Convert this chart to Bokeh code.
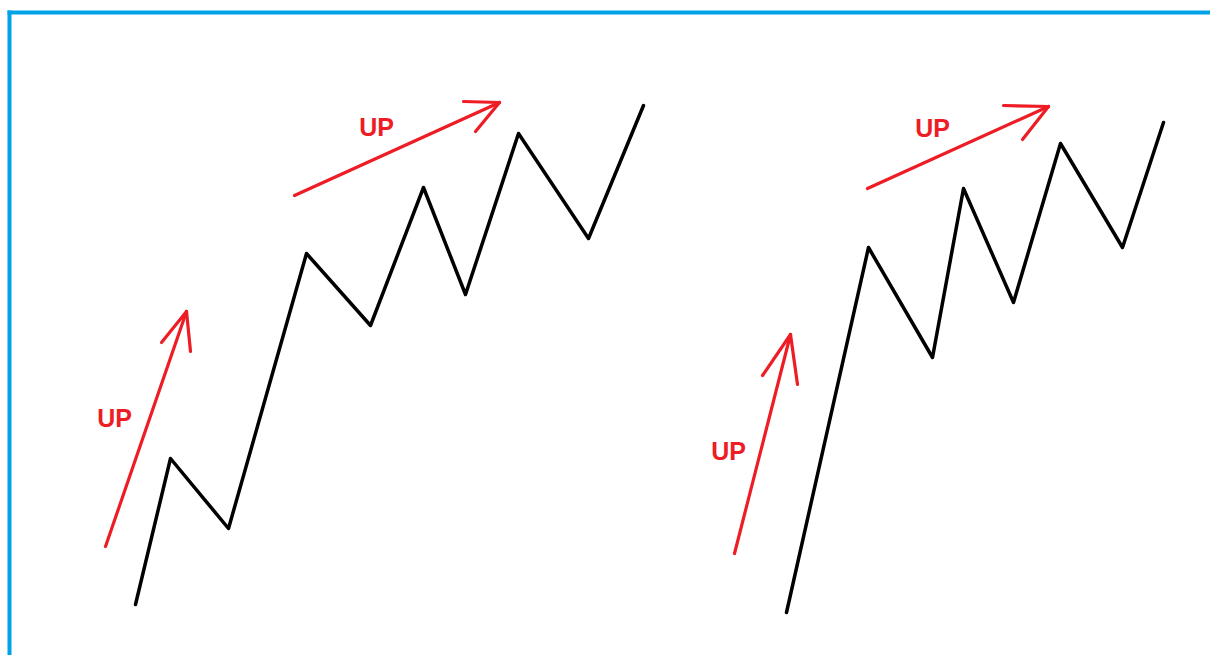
from bokeh.plotting import figure
from bokeh.models import Range1d
from bokeh.core.properties import value
from bokeh.embed import file_html
from bokeh.resources import INLINE

# Zigzag price paths (image pixel coordinates)
left_x = [135, 170, 228, 306, 370, 423, 465, 518, 588, 643]
left_y = [604, 458, 528, 253, 325, 187, 294, 133, 238, 105]
right_x = [786, 868, 932, 963, 1013, 1060, 1122, 1163]
right_y = [612, 247, 357, 188, 302, 143, 247, 122]

# Red arrows: shaft start, tip, and barb ends
arrow_x0 = [105, 294, 734, 867]
arrow_y0 = [546, 195, 553, 188]
arrow_x1 = [186, 499, 790, 1048]
arrow_y1 = [311, 102, 334, 106]
barb_a_x = [161, 463, 762, 1003]
barb_a_y = [342, 101, 375, 105]
barb_b_x = [190, 475, 797, 1022]
barb_b_y = [351, 131, 384, 139]

# Labels
label_x = [114, 376, 728, 932]
label_y = [417, 126, 450, 127]
label_text = ["UP", "UP", "UP", "UP"]

RED = "#ee1c24"
BLUE = "#00a2e8"

p = figure(width=1210, height=655, output_backend="svg", toolbar_location=None,
           x_range=Range1d(0, 1210), y_range=Range1d(655, 0),
           min_border=0, outline_line_color=None, background_fill_color="white")
p.axis.visible = False
p.grid.visible = False

# Blue frame (top and left)
p.segment(x0=[7], y0=[12], x1=[1210], y1=[12], line_color=BLUE, line_width=4)
p.segment(x0=[9], y0=[10], x1=[9], y1=[655], line_color=BLUE, line_width=4)

p.line(left_x, left_y, line_color="black", line_width=3.5, line_join="round", line_cap="round")
p.line(right_x, right_y, line_color="black", line_width=3.5, line_join="round", line_cap="round")

p.segment(x0=arrow_x0, y0=arrow_y0, x1=arrow_x1, y1=arrow_y1, line_color=RED, line_width=3.2, line_cap="round")
p.segment(x0=arrow_x1, y0=arrow_y1, x1=barb_a_x, y1=barb_a_y, line_color=RED, line_width=3.2, line_cap="round")
p.segment(x0=arrow_x1, y0=arrow_y1, x1=barb_b_x, y1=barb_b_y, line_color=RED, line_width=3.2, line_cap="round")

p.text(x=label_x, y=label_y, text=label_text, text_color=RED,
       text_font=value("Liberation Sans"), text_font_style="bold",
       text_font_size="25px", text_align="center", text_baseline="middle")

open("out.html", "w").write(file_html(p, INLINE))
